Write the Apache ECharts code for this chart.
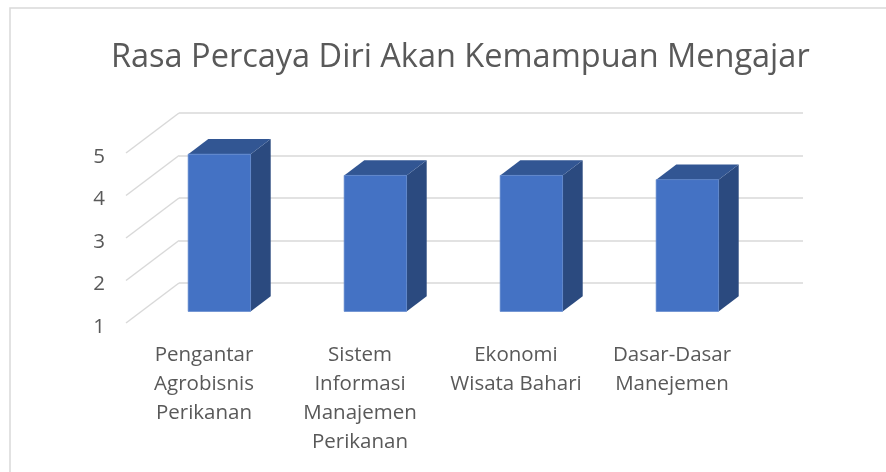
<!DOCTYPE html>
<html>
<head>
<meta charset="UTF-8">
<title>Rasa Percaya Diri</title>
<script type="text/javascript" src="https://cdn.jsdelivr.net/npm/echarts@6/dist/echarts.min.js"></script>
<style>
  body{margin:0;background:#fff}
</style>
</head>
<body>
<div id="main" style="width:886px;height:472px"></div>
<script type="text/javascript">
// data
var categories = ['Pengantar\nAgrobisnis\nPerikanan', 'Sistem\nInformasi\nManajemen\nPerikanan', 'Ekonomi\nWisata Bahari', 'Dasar-Dasar\nManejemen'];
var values = [4.7, 4.2, 4.2, 4.1];
var yTicks = [1, 2, 3, 4, 5];

// fake 3d depth (px) from back wall to front edge
var depthX = -53, depthY = 40;
var barBack = 0.33, barFront = 0.71; // bar position in depth
var fontFam = '"Open Sans", sans-serif';

var myChart = echarts.init(document.getElementById('main'));

function shift(p, f) {
    return [p[0] + depthX * f, p[1] + depthY * f];
}

var option = {
    backgroundColor: '#fff',
    animation: false,
    title: {
        text: 'Rasa Percaya Diri Akan Kemampuan Mengajar',
        left: 106,
        top: 36,
        textStyle: {fontFamily: fontFam, fontSize: 32.5, fontWeight: 'normal', color: '#595959'}
    },
    graphic: [{
        type: 'rect',
        shape: {x: 10, y: 8, width: 900, height: 500},
        style: {fill: null, stroke: '#d9d9d9', lineWidth: 1.5},
        silent: true
    }],
    grid: [
        // back wall
        {left: 179, right: 83, top: 113, bottom: 189},
        // front edge (category labels)
        {left: 126, right: 136, top: 153, bottom: 149},
        // value labels, a bit lower like excel puts them
        {left: 126, right: 136, top: 157, bottom: 145}
    ],
    xAxis: [
        {type: 'category', gridIndex: 0, data: categories, show: false},
        {
            type: 'category', gridIndex: 1, data: categories,
            axisLine: {show: false}, axisTick: {show: false},
            axisLabel: {interval: 0, margin: 18, fontFamily: fontFam, fontSize: 20.5, lineHeight: 29, color: '#595959'}
        },
        {type: 'category', gridIndex: 2, data: categories, show: false}
    ],
    yAxis: [
        {
            type: 'value', gridIndex: 0, min: 1, max: 5, interval: 1,
            axisLine: {show: false}, axisTick: {show: false}, axisLabel: {show: false},
            splitLine: {lineStyle: {color: '#d9d9d9', width: 1.5}}
        },
        {type: 'value', gridIndex: 1, min: 1, max: 5, interval: 1, show: false},
        {
            type: 'value', gridIndex: 2, min: 1, max: 5, interval: 1,
            axisLine: {show: false}, axisTick: {show: false}, splitLine: {show: false},
            axisLabel: {margin: 21, fontFamily: fontFam, fontSize: 20.5, color: '#595959'}
        }
    ],
    series: [
        {
            // side wall lines
            type: 'custom',
            xAxisIndex: 0, yAxisIndex: 0,
            silent: true,
            data: yTicks.map(function (v) { return [0, v]; }),
            renderItem: function (params, api) {
                var y = api.coord([0, api.value(1)])[1];
                var x = params.coordSys.x;
                return {
                    type: 'line',
                    shape: {x1: x, y1: y, x2: x + depthX, y2: y + depthY},
                    style: {stroke: '#d9d9d9', lineWidth: 1.5}
                };
            }
        },
        {
            type: 'custom',
            xAxisIndex: 0, yAxisIndex: 0,
            data: values.map(function (v, i) { return [i, v]; }),
            renderItem: function (params, api) {
                var i = api.value(0);
                var top = api.coord([i, api.value(1)]);
                var base = api.coord([i, 1]);
                var hw = api.size([1, 0])[0] * 0.2;
                var bl = [top[0] - hw, base[1]], br = [top[0] + hw, base[1]];
                var tl = [top[0] - hw, top[1]], tr = [top[0] + hw, top[1]];
                // front face corners
                var fbl = shift(bl, barFront), fbr = shift(br, barFront);
                var ftl = shift(tl, barFront), ftr = shift(tr, barFront);
                // back face corners
                var btl = shift(tl, barBack), btr = shift(tr, barBack), bbr = shift(br, barBack);
                return {
                    type: 'group',
                    children: [
                        {type: 'polygon', shape: {points: [fbr, ftr, btr, bbr]}, style: {fill: '#2B4A7F'}},
                        {type: 'polygon', shape: {points: [ftl, ftr, btr, btl]}, style: {fill: '#325693'}},
                        {type: 'polygon', shape: {points: [fbl, fbr, ftr, ftl]}, style: {fill: '#4472C4', stroke: '#5A84CC', lineWidth: 0.7}}
                    ]
                };
            }
        }
    ]
};

myChart.setOption(option);
</script>
</body>
</html>
